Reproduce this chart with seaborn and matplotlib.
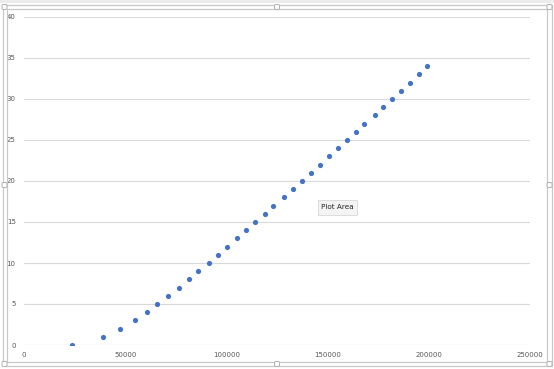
import matplotlib
matplotlib.use("Agg")
import matplotlib.pyplot as plt
import seaborn as sns
import pandas as pd
from matplotlib.patches import Rectangle, FancyBboxPatch

# Data
x_vals = [23500, 39200, 47600, 54700, 60900, 65900, 71300, 76700, 81500, 86100,
          91200, 96000, 100100, 105400, 109500, 114300, 118900, 123200, 128300, 132900,
          137500, 141600, 146100, 150900, 155100, 159600, 164200, 168000, 173300, 177600,
          181800, 186100, 190500, 195100, 199300]
y_vals = list(range(0, 35))
x_ticks = [0, 50000, 100000, 150000, 200000, 250000]
y_ticks = [0, 5, 10, 15, 20, 25, 30, 35, 40]

df = pd.DataFrame({"x": x_vals, "y": y_vals})

sns.set_theme(style="white")
plt.rcParams['font.family'] = ['DejaVu Sans']

W, H = 554, 369
fig = plt.figure(figsize=(W / 100, H / 100), dpi=100)
fig.patch.set_facecolor("white")

def fx(px):
    return px / W

def fy(py):
    return 1 - py / H

ax = fig.add_axes([fx(24), fy(345), fx(530) - fx(24), fy(17) - fy(345)])
ax.set_facecolor("none")

sns.scatterplot(data=df, x="x", y="y", ax=ax, color="#4472C4", s=14,
                edgecolor="#4472C4", linewidth=0, zorder=3)

ax.set_xlim(0, 250000)
ax.set_ylim(0, 40)
ax.set_xticks(x_ticks)
ax.set_xticklabels([str(t) for t in x_ticks])
ax.set_yticks(y_ticks)
ax.set_yticklabels([str(t) for t in y_ticks])
ax.set_xlabel("")
ax.set_ylabel("")
ax.yaxis.grid(True, color="#d9d9d9", linewidth=0.8)
ax.xaxis.grid(False)
for s in ax.spines.values():
    s.set_visible(False)
ax.tick_params(axis="both", length=0, labelsize=5, labelcolor="#595959")
ax.tick_params(axis="y", pad=6)
ax.tick_params(axis="x", pad=5)
ax.axhline(0, color="#d9d9d9", linewidth=0.8, zorder=1)

# Chart frame (selection border)
frame_color = "#c8c8c8"
fig.patches.append(Rectangle((0, fy(3)), 1, fy(0) - fy(3), transform=fig.transFigure,
                             facecolor="#ececec", edgecolor="none", zorder=0))
fig.patches.append(Rectangle((fx(3), fy(366)), fx(552) - fx(3), fy(5) - fy(366),
                             transform=fig.transFigure, facecolor="none",
                             edgecolor=frame_color, linewidth=0.9, zorder=5))
fig.patches.append(Rectangle((fx(6.5), fy(362)), fx(547) - fx(6.5), fy(9) - fy(362),
                             transform=fig.transFigure, facecolor="none",
                             edgecolor=frame_color, linewidth=0.9, zorder=5))

# handles
handles = [(4.5, 7), (277, 7), (549.5, 7), (4.5, 185), (549.5, 185),
           (4.5, 364), (277, 364), (549.5, 364)]
for hx, hy in handles:
    fig.patches.append(FancyBboxPatch((fx(hx - 2.5), fy(hy + 2.5)), fx(5), 5 / H,
                                      boxstyle="round,pad=0,rounding_size=0.003",
                                      transform=fig.transFigure, facecolor="white",
                                      edgecolor="#b0b0b0", linewidth=0.7, zorder=6))

# Tooltip
fig.patches.append(Rectangle((fx(317.5), fy(214.5)), fx(356.5) - fx(317.5), fy(200) - fy(214.5),
                             transform=fig.transFigure, facecolor="#f4f4f4",
                             edgecolor="#d8d8d8", linewidth=0.6, zorder=7))
fig.text(fx(337), fy(207), "Plot Area", ha="center", va="center", fontsize=5.2,
         color="#222222", zorder=8)

fig.savefig("out.png", dpi=100)
